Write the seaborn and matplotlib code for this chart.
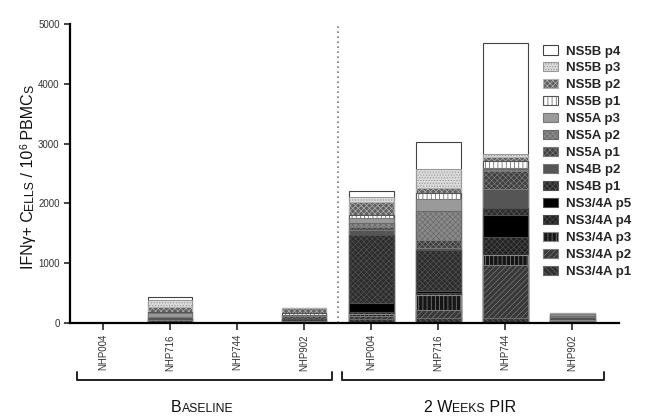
import numpy as np
import pandas as pd
import seaborn as sns
import matplotlib.pyplot as plt
from matplotlib.patches import Patch
from matplotlib.lines import Line2D
import matplotlib.transforms as mtransforms


# animals, twice (baseline / 2 weeks PIR)
samples = ["NHP004", "NHP716", "NHP744", "NHP902",
           "NHP004", "NHP716", "NHP744", "NHP902"]
groups = ["Baseline", "2 Weeks PIR"]

# peptide pools, bottom of the stack first
ns34a_p1 = [0, 20, 0, 20, 60, 80, 90, 20]
ns34a_p2 = [0, 25, 0, 20, 50, 130, 880, 20]
ns34a_p3 = [0, 0, 0, 0, 40, 260, 170, 10]
ns34a_p4 = [0, 0, 0, 0, 30, 40, 300, 0]
ns34a_p5 = [0, 0, 0, 0, 150, 30, 360, 0]
ns4b_p1 = [0, 20, 0, 30, 1140, 680, 120, 20]
ns4b_p2 = [0, 30, 0, 0, 80, 40, 320, 30]
ns5a_p1 = [0, 0, 0, 40, 60, 120, 300, 0]
ns5a_p2 = [0, 0, 0, 30, 60, 500, 30, 20]
ns5a_p3 = [0, 67, 0, 0, 80, 190, 20, 30]
ns5b_p1 = [0, 27, 0, 30, 50, 100, 120, 0]
ns5b_p2 = [0, 83, 0, 80, 230, 80, 60, 20]
ns5b_p3 = [0, 118, 0, 0, 70, 320, 50, 0]
ns5b_p4 = [0, 40, 0, 0, 100, 460, 1870, 0]

pools = ["NS3/4A p1", "NS3/4A p2", "NS3/4A p3", "NS3/4A p4", "NS3/4A p5",
         "NS4B p1", "NS4B p2", "NS5A p1", "NS5A p2", "NS5A p3",
         "NS5B p1", "NS5B p2", "NS5B p3", "NS5B p4"]
values = [ns34a_p1, ns34a_p2, ns34a_p3, ns34a_p4, ns34a_p5,
          ns4b_p1, ns4b_p2, ns5a_p1, ns5a_p2, ns5a_p3,
          ns5b_p1, ns5b_p2, ns5b_p3, ns5b_p4]

# fill, hatch, edge/hatch colour for every pool
styles = {
    "NS3/4A p1": ("#303030", "\\\\\\\\\\\\", "#6a6a6a"),
    "NS3/4A p2": ("#383838", "//////", "#7a7a7a"),
    "NS3/4A p3": ("#151515", "||||", "#8a8a8a"),
    "NS3/4A p4": ("#222222", "xxxxxx", "#4a4a4a"),
    "NS3/4A p5": ("#000000", None, "#505050"),
    "NS4B p1": ("#2c2c2c", "xxxxxx", "#505050"),
    "NS4B p2": ("#555555", None, "#777777"),
    "NS5A p1": ("#404040", "xxxxxx", "#7a7a7a"),
    "NS5A p2": ("#8a8a8a", "xxxxxx", "#6a6a6a"),
    "NS5A p3": ("#9a9a9a", None, "#777777"),
    "NS5B p1": ("#ffffff", "||||", "#555555"),
    "NS5B p2": ("#606060", "xxxxxx", "#b0b0b0"),
    "NS5B p3": ("#dadada", "......", "#999999"),
    "NS5B p4": ("#ffffff", None, "#444444"),
}

sns.set_style("ticks")
plt.rcParams['font.family'] = ['Liberation Sans', 'DejaVu Sans']
plt.rcParams['hatch.linewidth'] = 0.5

fig = plt.figure(figsize=(6.5, 4.19), dpi=100)
ax = fig.add_axes([70 / 650, 1 - 323 / 419, 549 / 650, 299 / 419])

keys = [f"{i}" for i in range(len(samples))]
cum = np.cumsum(np.array(values), axis=0)

# draw the stack from the top down: every bar covers the ones below it
for k in range(len(pools) - 1, -1, -1):
    fill, hatch, edge = styles[pools[k]]
    df = pd.DataFrame({"key": keys, "total": cum[k]})
    sns.barplot(data=df, x="key", y="total", order=keys, color=fill,
                saturation=1, width=0.67, edgecolor=edge, linewidth=0.8,
                hatch=hatch, ax=ax, errorbar=None)

ax.set_xlim(-0.4925, 7.70)
ax.set_ylim(0, 5000)
ax.set_yticks(range(0, 5001, 1000))
ax.set_xticks(range(len(samples)))
ax.set_xticklabels(samples, rotation=90, fontsize=7, color="#333333")
ax.tick_params(axis="y", labelsize=7, labelcolor="#333333", length=4, width=1.2)
ax.tick_params(axis="x", length=5, width=1.2, pad=3)
ax.set_xlabel("")
ax.set_ylabel("")
for s in ["top", "right"]:
    ax.spines[s].set_visible(False)
for s in ["left", "bottom"]:
    ax.spines[s].set_linewidth(1.6)
    ax.spines[s].set_color("black")

ax.axvline(3.5, color="#777777", ls=(0, (1, 2)), lw=1.2)

# legend, top entry first
handles = []
for p in reversed(pools):
    fill, hatch, edge = styles[p]
    handles.append(Patch(facecolor=fill, edgecolor=edge, hatch=hatch, lw=0.8, label=p))
leg = fig.legend(handles=handles, loc="upper left",
                 bbox_to_anchor=(538 / 650, 1 - 40 / 419), frameon=False,
                 prop={"weight": "bold", "size": 9.5},
                 handlelength=1.15, handleheight=0.7, handletextpad=0.55,
                 labelspacing=0.36, borderaxespad=0)

# group brackets under the tick labels
tr = mtransforms.blended_transform_factory(ax.transData, fig.transFigure)
y_lo, y_hi = 1 - 380 / 419, 1 - 372 / 419
for x0, x1 in [(-0.39, 3.42), (3.57, 7.48)]:
    ax.add_line(Line2D([x0, x0, x1, x1], [y_hi, y_lo, y_lo, y_hi], transform=tr,
                       color="#222222", lw=1.4, clip_on=False))

fig.canvas.draw()
renderer = fig.canvas.get_renderer()
W, H = fig.bbox.width, fig.bbox.height


def small_caps(parts, x, y, rotation=0):
    # parts: (text, size, raise); laid out along the baseline, centred on (x, y)
    texts = []
    for txt, size, rise in parts:
        t = fig.text(0, 0, txt, fontsize=size, rotation=rotation,
                     rotation_mode="anchor", ha="left", va="baseline", color="#111111")
        texts.append((t, rise))
    lengths = []
    for t, _ in texts:
        bb = t.get_window_extent(renderer)
        lengths.append(bb.height if rotation else bb.width)
    pos = -sum(lengths) / 2
    for (t, rise), ln in zip(texts, lengths):
        if rotation:
            t.set_position(((x - rise) / W, (y + pos) / H))
        else:
            t.set_position(((x + pos) / W, (y + rise) / H))
        pos += ln


small_caps([("IFNγ+ C", 11.5, 0), ("ELLS", 8.8, 0), (" / 10", 11.5, 0),
            ("6", 7.5, 5), (" PBMC", 11.5, 0), ("S", 8.8, 0)],
           x=33, y=419 - 177, rotation=90)
small_caps([("B", 11.5, 0), ("ASELINE", 8.8, 0)], x=202, y=419 - 412)
small_caps([("2 W", 11.5, 0), ("EEKS", 8.8, 0), (" PIR", 11.5, 0)], x=470, y=419 - 412)

fig.savefig("out.png", dpi=100)
